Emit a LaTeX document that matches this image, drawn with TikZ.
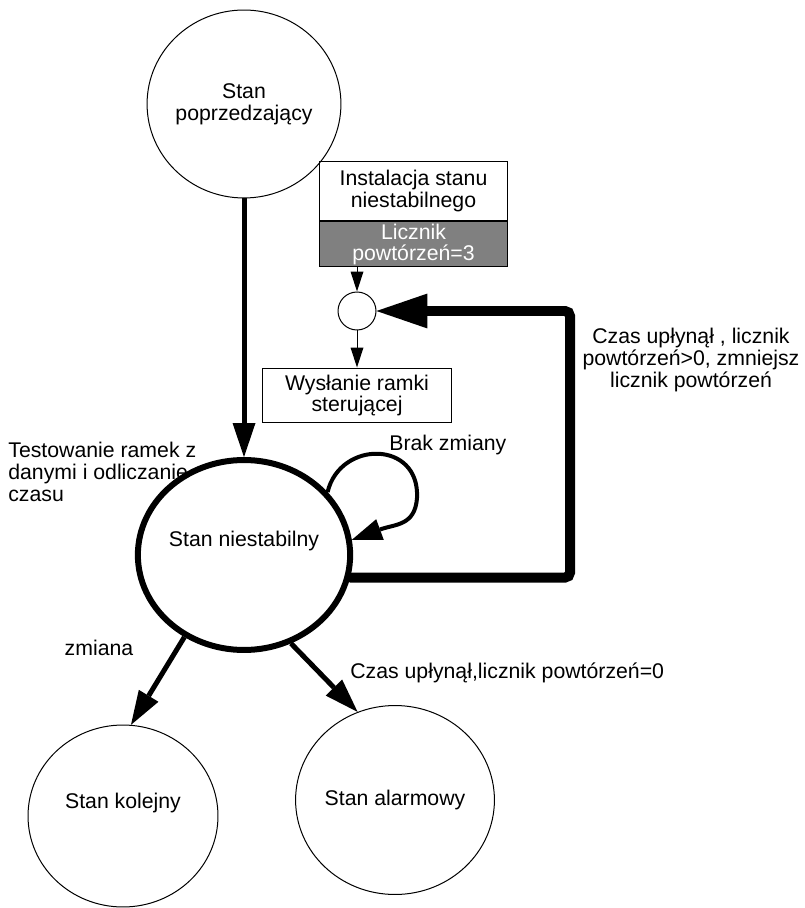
\documentclass[tikz,border=0pt]{standalone}
\usepackage{fontspec}
\setmainfont{Liberation Sans}
\usetikzlibrary{shapes.geometric,positioning,arrows.meta}
\tikzset{stan/.style={ellipse,draw,line width=0.02cm,minimum width=3.8cm,minimum height=3.76cm,align=center,inner sep=0pt}}
\tikzset{blok/.style={rectangle,draw,line width=0.02cm,minimum width=3.78cm,align=center,inner sep=0pt}}
\tikzset{opis/.style={align=center,inner sep=0pt}}
\tikzset{cienka/.style={line width=0.02cm,-{Triangle[length=0.4cm,width=0.26cm,line width=0pt]}}}
\tikzset{gruba/.style={line width=0.1cm,-{Triangle[length=0.68cm,width=0.46cm,line width=0pt]}}}
\tikzset{petla/.style={line width=0.08cm,-{Triangle[length=0.6cm,width=0.44cm,line width=0pt]}}}
\tikzset{powrot/.style={line width=0.2cm,rounded corners=0.1cm,line cap=round,-{Triangle[length=1.02cm,width=0.7cm,line width=0pt]}}}

\begin{document}
\begin{tikzpicture}[x=0.02cm,y=-0.02cm,font=\fontsize{12.1}{12.5}\selectfont]
    \useasboundingbox (0,0) rectangle (804,908);
        \node[stan] (pop) at (244,104) {Stan\\poprzedzający};
        \node[stan,line width=0.12cm,minimum width=3.82cm,minimum height=3.8cm] (nst) at (244,555) {Stan niestabilny\\[0.2cm]};
        \node[stan,minimum height=3.64cm] (kol) at (123,816) {Stan kolejny\\[0.15cm]};
        \node[stan,minimum width=3.76cm,minimum height=3.78cm] (alm) at (395,800) {Stan alarmowy};
        \node[blok,minimum height=1.2cm] (inst) at (413.5,191) {Instalacja stanu\\niestabilnego};
        \node[blok,minimum height=0.9cm,fill=gray,text=white,below=0pt of inst] (licz) {Licznik\\powtórzeń=3};
        \node[circle,draw,line width=0.02cm,minimum size=0.76cm,inner sep=0pt] (conn) at (357,311) {};
        \node[blok,minimum height=1.1cm] (wys) at (357,395.5) {Wysłanie ramki\\sterującej};
        \coordinate (rog) at (570,311);

        \node[opis,align=left,anchor=west] (lt) at (8,472) {Testowanie ramek z\\danymi i odliczanie\\czasu};
        \node[opis,anchor=west] (lb) at (389,445) {Brak zmiany};
        \node[opis] (lz) at (99,648) {zmiana};
        \node[opis,anchor=west] (la) at (350,673) {Czas upłynął,licznik powtórzeń=0};
        \node[opis] (lp) at (691,360) {Czas upłynął , licznik\\powtórzeń>0, zmniejsz\\licznik powtórzeń};

        \draw [gruba] (pop) to (nst);
        \draw [cienka] (licz.south -| conn) to (conn);
        \draw [cienka] (conn) to (wys);
        \draw [petla] (nst.37) .. controls (340,440) and (420,440) .. (417,498) .. controls (415,526) and (395,524) .. (nst.8);
        \draw [powrot] (nst.-12) -| (rog) -- (conn);
        \draw [gruba] (nst.-126) to (kol.85);
        \draw [gruba] (nst.-62) to (alm.113);
    \end{tikzpicture}
\end{document}
